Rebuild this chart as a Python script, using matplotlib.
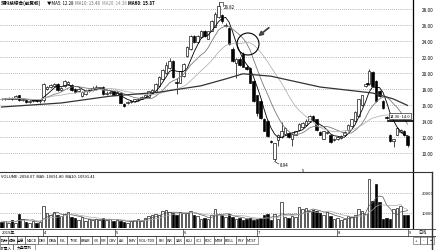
import matplotlib
matplotlib.use("Agg")
import matplotlib.pyplot as plt
import numpy as np
import pandas as pd
from matplotlib.patches import Ellipse, Rectangle
from matplotlib.lines import Line2D

# daily candles, Mar - Sep 2019
opens = [
    16.8, 16.7, 16.8, 16.9, 16.8, 17.2, 16.6, 16.6, 16.4, 16.5,
    16.6, 16.5, 16.6, 18.0, 18.2, 18.4, 18.6, 17.9, 18.4, 18.6,
    18.5, 18.0, 17.8, 17.1, 17.4, 17.7, 17.9, 18.0, 18.1, 18.3,
    17.4, 17.5, 17.7, 17.3, 17.5, 16.1, 16.2, 16.4, 16.5, 16.6,
    16.8, 17.0, 17.0, 17.5, 17.6, 18.4, 19.2, 20.0, 20.6, 21.5,
    18.9, 18.8, 19.6, 22.1, 23.0, 24.6, 23.9, 24.5, 25.25, 24.3,
    25.3, 25.8, 27.0, 27.2, 25.9, 25.6, 23.0, 21.2, 21.8, 22.4,
    20.8, 20.6, 19.0, 17.2, 16.5, 14.3, 14.0, 11.5, 9.3, 11.6,
    12.0, 12.4, 12.5, 11.7, 12.3, 12.9, 13.2, 13.5, 14.0, 14.6,
    14.2, 12.6, 11.8, 12.5, 12.2, 11.6, 11.7, 11.9, 12.2, 12.9,
    13.4, 14.0, 14.6, 16.0, 18.4, 18.6, 20.1, 19.0, 17.8, 16.5,
    14.5, 12.3, 11.5, 12.3, 12.6, 12.8, 12.1,
]
closes = [
    16.7, 16.8, 16.9, 16.7, 17.1, 16.6, 16.7, 16.4, 16.5, 16.6,
    16.5, 16.6, 18.6, 18.3, 18.5, 18.6, 17.9, 18.1, 19.0, 18.9,
    17.9, 17.6, 18.0, 17.6, 17.7, 17.9, 18.1, 18.2, 18.2, 17.4,
    17.5, 17.6, 17.3, 17.6, 16.3, 15.9, 16.4, 16.5, 16.7, 16.8,
    17.0, 17.2, 17.7, 17.9, 18.6, 19.5, 20.4, 21.0, 21.5, 19.5,
    18.7, 20.2, 21.1, 23.25, 24.6, 23.9, 24.6, 25.25, 24.6, 25.2,
    26.5, 27.4, 28.4, 26.5, 26.0, 23.6, 21.5, 21.7, 21.0, 20.8,
    20.5, 18.8, 16.5, 15.0, 14.4, 12.8, 12.1, 11.4, 11.2, 12.3,
    12.8, 13.1, 12.0, 12.4, 12.7, 13.6, 13.8, 14.0, 14.6, 14.0,
    12.9, 12.3, 12.7, 12.6, 11.4, 11.8, 12.0, 12.1, 12.6, 13.5,
    14.25, 15.1, 16.75, 17.2, 18.6, 20.3, 18.4, 16.5, 17.1, 15.6,
    14.4, 11.5, 11.7, 13.1, 12.9, 12.2, 11.0,
]
highs = [
    16.9, 16.9, 17.0, 17.0, 17.2, 17.3, 16.8, 16.7, 16.6, 16.7,
    16.7, 16.7, 18.7, 18.4, 18.6, 18.8, 18.7, 18.2, 19.1, 19.0,
    18.6, 18.1, 18.1, 17.7, 17.8, 18.0, 18.4, 18.5, 18.3, 18.4,
    17.7, 17.8, 17.8, 17.7, 17.6, 16.2, 16.5, 16.6, 16.8, 16.9,
    17.1, 17.3, 17.8, 18.0, 18.7, 19.6, 20.5, 21.4, 21.9, 21.6,
    19.4, 20.3, 21.2, 23.4, 24.7, 24.8, 24.7, 25.4, 25.4, 25.3,
    26.6, 27.6, 28.82, 27.4, 26.3, 25.8, 23.2, 21.9, 22.0, 22.6,
    21.0, 20.7, 19.1, 17.3, 16.6, 14.4, 14.1, 11.6, 11.3, 12.4,
    13.9, 13.3, 12.6, 12.5, 12.8, 13.7, 13.9, 14.3, 14.8, 14.7,
    14.3, 12.7, 12.8, 12.7, 12.3, 11.9, 12.1, 12.2, 12.7, 13.6,
    14.3, 15.2, 16.8, 17.3, 18.7, 20.5, 20.2, 19.1, 17.9, 16.6,
    14.6, 12.4, 11.8, 13.2, 13.0, 12.9, 12.2,
]
lows = [
    16.6, 16.6, 16.7, 16.6, 16.7, 16.5, 16.5, 16.3, 16.3, 16.4,
    16.4, 16.3, 16.4, 17.9, 18.1, 18.3, 17.8, 17.8, 18.3, 18.5,
    17.8, 17.5, 17.7, 17.0, 17.3, 17.6, 17.8, 17.9, 18.0, 17.3,
    17.3, 17.4, 17.2, 17.2, 16.2, 15.8, 16.1, 16.3, 16.4, 16.5,
    16.7, 16.9, 16.9, 17.4, 17.5, 18.3, 19.1, 19.9, 20.5, 19.4,
    17.4, 18.7, 19.5, 22.0, 22.9, 23.8, 23.8, 24.4, 24.5, 24.2,
    25.2, 25.7, 26.9, 26.3, 25.7, 23.5, 21.4, 19.4, 20.9, 20.7,
    20.4, 18.7, 16.4, 14.6, 14.3, 12.7, 12.0, 11.3, 8.94, 10.9,
    11.9, 12.3, 11.9, 10.9, 12.2, 12.8, 13.1, 13.4, 13.9, 13.9,
    12.8, 12.2, 11.7, 12.4, 11.3, 11.5, 11.6, 11.8, 12.1, 12.8,
    13.3, 13.9, 14.5, 15.9, 18.3, 18.5, 18.3, 16.4, 17.0, 15.5,
    14.3, 11.4, 10.75, 12.2, 12.5, 12.1, 10.75,
]
volumes = [
    5500, 6000, 5000, 6500, 5000, 9500, 7000, 5500, 5000, 6000,
    5000, 5500, 13500, 10000, 9000, 10500, 9000, 8500, 9500, 10500,
    8000, 7500, 6500, 8000, 6000, 7000, 6500, 7000, 6500, 7500,
    6500, 7000, 6000, 6500, 6000, 5500, 5000, 6000, 6500, 7000,
    6000, 7500, 8500, 9000, 9500, 9000, 11000, 11500, 10500, 10000,
    9000, 10500, 10000, 10000, 11000, 9000, 8500, 7000, 7500, 7000,
    9000, 12000, 9500, 9000, 8000, 9500, 8000, 7000, 7500, 6500,
    7000, 7500, 6500, 7000, 7500, 9000, 9500, 6500, 9500, 7000,
    15500, 8000, 7500, 8500, 8000, 13000, 12000, 12500, 11000, 11500,
    11000, 10000, 9000, 10500, 8500, 7000, 7500, 6500, 7000, 8500,
    8000, 9000, 12000, 11000, 9500, 27000, 16000, 24500, 15500, 7000,
    7500, 7000, 12000, 12500, 13500, 9000, 9000,
]

# long moving average (candle index, price)
long_ma_idx = [0, 17, 31, 45, 57, 64, 69, 77, 91, 106, 112, 116]
long_ma_val = [15.75, 16.25, 17.1, 17.6, 18.4, 19.25, 19.9, 19.6, 18.25, 17.5, 16.75, 15.95]

price_ticks = [10, 12, 14, 16, 18, 20, 22, 24, 26, 28]
vol_ticks = [10000, 20000]
months = ["2019年", "4", "5", "6", "7", "8", "9"]
month_px = [1, 43, 115, 183, 257, 337, 408]
tabs = ["指标", "模板", "全息", "MACD", "DMI", "DMA", "FSL", "TRIX", "BRAR", "CR",
        "VR", "OBV", "ASI", "EMV", "VOL-TDX", "RSI", "WR", "SAR", "KDJ", "CCI",
        "ROC", "MTM", "BOLL", "PSY", "MCST"]

plt.rcParams["font.family"] = ["Noto Sans CJK SC", "DejaVu Sans"]

W, H = 436, 251


def fx(x):
    return x / W


def fy(y):
    return 1 - y / H


def idx(x):
    return (x - 1.5) / 3.5


def price(y):
    return 28 - (y - 10) / 8


fig = plt.figure(figsize=(4.36, 2.51), dpi=100)
fig.patch.set_facecolor("white")

ax = fig.add_axes([0, fy(173), fx(413), 173 / H])
vax = fig.add_axes([0, fy(229), fx(413), 56 / H])

o = np.array(opens)
c = np.array(closes)
hi = np.array(highs)
lo = np.array(lows)
v = np.array(volumes)
xs = np.arange(len(c))
up = c >= o
cols = np.where(up, "white", "black")

# ---- price panel
ax.set_xlim(idx(0), idx(413))
ax.set_ylim(price(173), price(0))
for p in price_ticks:
    ax.axhline(p, color="#777777", lw=0.5, ls=(0, (1, 2)), zorder=0)

ax.vlines(xs, lo, hi, color="black", lw=0.5, zorder=2)
body = np.maximum(np.abs(c - o), 0.06)
ax.bar(xs, body, bottom=np.minimum(o, c), width=0.68, color=cols,
       edgecolor="black", linewidth=0.45, zorder=3)

cs = pd.Series(c)
ax.plot(xs, cs.rolling(5, min_periods=1).mean(), color="black", lw=0.6, zorder=4)
ax.plot(xs, cs.rolling(10, min_periods=1).mean(), color="#7a7a7a", lw=0.6, zorder=4)
ax.plot(xs, cs.rolling(20, min_periods=1).mean(), color="#b5b5b5", lw=0.6, zorder=4)
ax.plot(long_ma_idx, long_ma_val, color="#333333", lw=0.9, zorder=4)

# highlight circle and arrow
ax.add_patch(Ellipse((idx(248), price(45)), 22 / 3.5, 22 / 8, fill=False,
                     ec="black", lw=0.8, zorder=5))
ax.annotate("", xy=(idx(256), price(39)), xytext=(idx(271), price(27)),
            arrowprops=dict(arrowstyle="-|>", color="#444444", lw=1.3,
                            mutation_scale=6), zorder=6)

# extreme price labels
imax = int(np.argmax(hi))
imin = int(np.argmin(lo))
ax.plot([imax, imax + 1.2, imax + 1.2], [hi[imax], hi[imax], hi[imax] - 0.4],
        color="black", lw=0.4)
ax.text(imax + 1.6, hi[imax] - 0.45, "28.82", fontsize=3.2, va="center")
ax.plot([imin, imin + 1.2], [lo[imin], lo[imin] - 0.3], color="black", lw=0.4)
ax.text(imin + 1.5, lo[imin] - 0.35, "8.94", fontsize=3.2, va="center")
ax.text(idx(303), price(171), "5", fontsize=3, ha="center", va="center")
ax.text(idx(400), price(117), "14.36~14.0", fontsize=3, ha="center", va="center",
        bbox=dict(boxstyle="square,pad=0.15", fc="white", ec="black", lw=0.4), zorder=6)
ax.plot([idx(388), idx(413)], [price(121.5)] * 2, color="black", lw=1.2, zorder=5)
ax.text(idx(368), price(86), "▼", fontsize=2.8, ha="center", va="center")

ax.yaxis.tick_right()
ax.set_yticks(price_ticks)
ax.set_yticklabels([f"{p:.2f}" for p in price_ticks], fontsize=3.3)
ax.tick_params(axis="y", length=0, pad=6)
ax.set_xticks([])
for s in ["top", "left", "bottom"]:
    ax.spines[s].set_visible(False)
ax.spines["right"].set_linewidth(0.9)

# ---- volume panel
vax.set_xlim(idx(0), idx(413))
vax.set_ylim(2500, 30500)
for t in vol_ticks:
    vax.axhline(t, color="#777777", lw=0.5, ls=(0, (1, 2)), zorder=0)
vax.bar(xs, v, width=0.68, color=cols, edgecolor="black", linewidth=0.45, zorder=3)
vs = pd.Series(v)
vax.plot(xs, vs.rolling(5, min_periods=1).mean(), color="#555555", lw=0.5, zorder=4)
vax.plot(xs, vs.rolling(10, min_periods=1).mean(), color="#aaaaaa", lw=0.5, zorder=4)
vax.yaxis.tick_right()
vax.set_yticks(vol_ticks)
vax.set_yticklabels([f"{t}" for t in vol_ticks], fontsize=3.0)
vax.tick_params(axis="y", length=0, pad=6)
vax.set_xticks([])
for s in ["top", "left", "bottom"]:
    vax.spines[s].set_visible(False)
vax.spines["right"].set_linewidth(0.9)

# ---- frame lines
def hline(y, x0, x1, lw=0.8, color="#333333"):
    fig.add_artist(Line2D([fx(x0), fx(x1)], [fy(y), fy(y)], color=color, lw=lw))


def vline(x, y0, y1, lw=0.8, color="#333333"):
    fig.add_artist(Line2D([fx(x), fx(x)], [fy(y0), fy(y1)], color=color, lw=lw))


hline(173, 0, 432)
hline(229.5, 0, 436, lw=0.6)
hline(236.5, 0, 436, lw=0.6)
vline(432, 173, 251, lw=1.0)

# header texts
fig.text(fx(1), fy(3.5), "深科技综合(前复权)", fontsize=3.3, va="center", weight="bold")
fig.text(fx(47), fy(3.5), "▼MA5: 12.28", fontsize=3.2, va="center")
fig.text(fx(75), fy(3.5), "MA10: 13.48", fontsize=3.2, va="center", color="#666666")
fig.text(fx(102), fy(3.5), "MA20: 14.38", fontsize=3.2, va="center", color="#888888")
fig.text(fx(128), fy(3.5), "MA60: 15.87", fontsize=3.2, va="center", weight="bold")
fig.text(fx(1), fy(177.5), "VOLUME: 2094.07  MA5: 10691.80  MA10: 10591.41",
         fontsize=3.0, va="center")

# month row
for lab, xp in zip(months, month_px):
    if xp > 5:
        vline(xp, 229.5, 236.5, lw=0.5)
    fig.text(fx(xp + 1), fy(233), lab, fontsize=3.0, va="center")

# tab row
widths = [11 if not t.isascii() else 3.0 * len(t) + 4 for t in tabs]
scale = 258 / sum(widths)
x0 = 0
for t, w in zip(tabs, widths):
    w = w * scale
    fig.add_artist(Rectangle((fx(x0), fy(245)), fx(w), 8 / H, fill=False,
                             ec="#555555", lw=0.4, transform=fig.transFigure))
    fig.text(fx(x0 + w / 2), fy(241), t, fontsize=2.7, ha="center", va="center")
    x0 += w
for t, a, w in [("扩展入", 0, 13), ("大盘同列", 13, 22)]:
    fig.add_artist(Rectangle((fx(a), fy(251)), fx(w), 6 / H, fill=False,
                             ec="#555555", lw=0.4, transform=fig.transFigure))
    fig.text(fx(a + w / 2), fy(248), t, fontsize=2.7, ha="center", va="center")

fig.text(fx(418), fy(233), "日线", fontsize=3.0, va="center")
for t, a in [("+", 413), ("-", 420), ("▪", 427)]:
    fig.add_artist(Rectangle((fx(a), fy(245)), fx(7), 7 / H, fill=False,
                             ec="#555555", lw=0.4, transform=fig.transFigure))
    fig.text(fx(a + 3.5), fy(241.5), t, fontsize=3.0, ha="center", va="center")

fig.savefig("out.png", dpi=100)
